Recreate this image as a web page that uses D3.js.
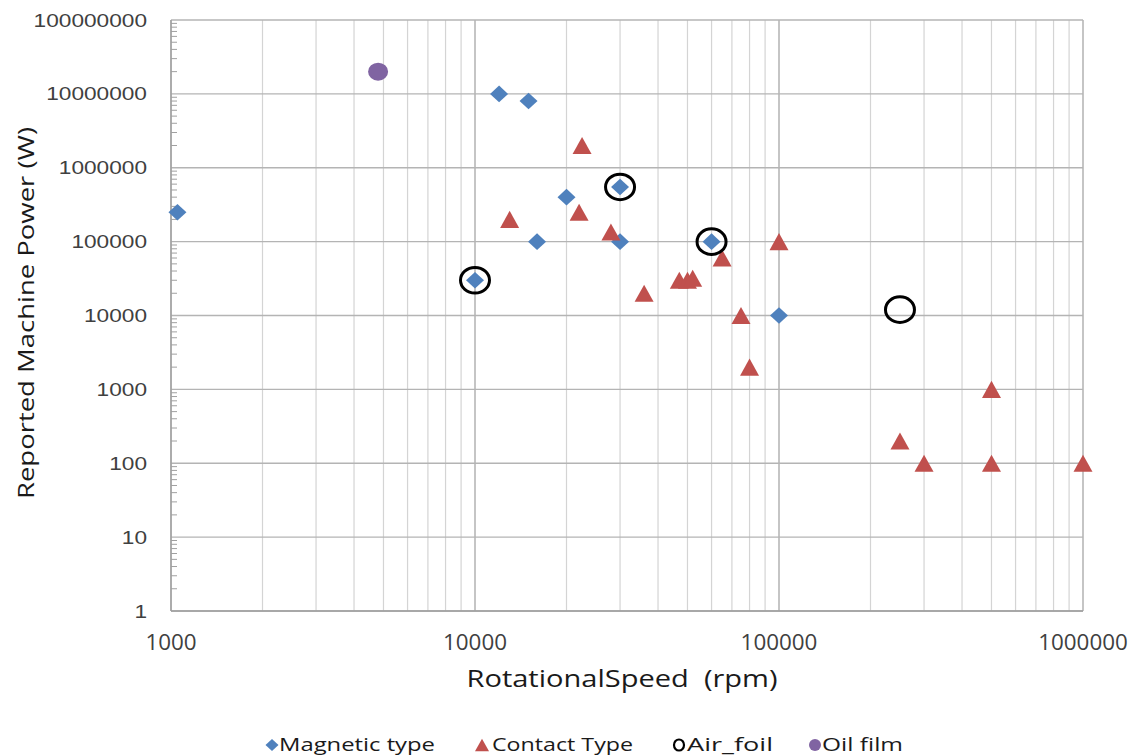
<!DOCTYPE html>
<html>
<head>
<meta charset="utf-8">
<script src="https://cdn.jsdelivr.net/npm/d3@7"></script>
<style>
  html, body { margin: 0; padding: 0; background: #fff; }
  svg { display: block; }
</style>
</head>
<body>
<svg id="chart" width="1137" height="755"></svg>
<script>
// Series: [rotational speed (rpm), reported machine power (W)]
const magneticType = [
  [1050, 250000], [12000, 10000000], [15000, 8000000], [20000, 400000],
  [16000, 100000], [30000, 550000], [30000, 100000], [10000, 30000],
  [60000, 100000], [100000, 10000]
];
const contactType = [
  [22500, 2000000], [13000, 200000], [22000, 250000], [28000, 135000],
  [36000, 20000], [47000, 30000], [50000, 30000], [52000, 32000],
  [65000, 60000], [100000, 100000], [75000, 10000], [80000, 2000],
  [500000, 1000], [250000, 200], [300000, 100], [500000, 100], [1000000, 100]
];
const airFoil = [
  [10000, 30000], [30000, 550000], [60000, 100000], [250000, 12000]
];
const oilFilm = [
  [4800, 20000000]
];
const seriesNames = ["Magnetic type", "Contact Type", "Air_foil", "Oil film"];
const xTickValues = [1000, 10000, 100000, 1000000];
const yTickValues = [1, 10, 100, 1000, 10000, 100000, 1000000, 10000000, 100000000];
const xTitle = "RotationalSpeed  (rpm)";
const yTitle = "Reported Machine Power (W)";

(function () {
const svg = d3.select("#chart");
const pL = 171, pR = 1083, pT = 20, pB = 611;

const x = d3.scaleLog().domain([1000, 1000000]).range([pL, pR]);
const y = d3.scaleLog().domain([1, 100000000]).range([pB, pT]);

// minor values 2..9 for each decade
function minors(domain) {
  const out = [];
  for (let p = Math.round(Math.log10(domain[0])); p < Math.round(Math.log10(domain[1])); p++) {
    for (let m = 2; m <= 9; m++) out.push(m * Math.pow(10, p));
  }
  return out;
}

const grid = svg.append("g");
// vertical minor gridlines
grid.append("g").selectAll("line").data(minors(x.domain())).join("line")
  .attr("x1", d => x(d)).attr("x2", d => x(d))
  .attr("y1", pT).attr("y2", pB)
  .attr("stroke", "#d4d4d4").attr("stroke-width", 1.2);
// vertical major gridlines
grid.append("g").selectAll("line").data(xTickValues).join("line")
  .attr("x1", d => x(d)).attr("x2", d => x(d))
  .attr("y1", pT).attr("y2", pB)
  .attr("stroke", "#a6a6a6").attr("stroke-width", 1.3);
// horizontal major gridlines
grid.append("g").selectAll("line").data(yTickValues).join("line")
  .attr("x1", pL).attr("x2", pR)
  .attr("y1", d => y(d)).attr("y2", d => y(d))
  .attr("stroke", "#b4b4b4").attr("stroke-width", 1.3);

// axis lines
svg.append("line").attr("x1", pL).attr("x2", pL).attr("y1", pT).attr("y2", pB)
  .attr("stroke", "#9e9e9e").attr("stroke-width", 1.3);
svg.append("line").attr("x1", pL).attr("x2", pR).attr("y1", pB).attr("y2", pB)
  .attr("stroke", "#9e9e9e").attr("stroke-width", 1.3);

// y minor ticks, drawn inside the plot
svg.append("g").selectAll("line").data(minors(y.domain())).join("line")
  .attr("x1", pL).attr("x2", pL + 6)
  .attr("y1", d => y(d)).attr("y2", d => y(d))
  .attr("stroke", "#a0a0a0").attr("stroke-width", 1);

// y tick labels
svg.append("g").selectAll("text").data(yTickValues).join("text")
  .attr("x", 147).attr("y", d => y(d) + 6.5)
  .attr("text-anchor", "end")
  .attr("font-family", "Liberation Sans, Arial, sans-serif")
  .attr("font-size", 17.8)
  .attr("fill", "#404040")
  .attr("textLength", d => String(d).length * 12.6)
  .attr("lengthAdjust", "spacingAndGlyphs")
  .text(d => String(d));

// x tick labels
svg.append("g").selectAll("text").data(xTickValues).join("text")
  .attr("x", d => x(d)).attr("y", 649.5)
  .attr("text-anchor", "middle")
  .attr("font-family", "Open Sans, sans-serif")
  .attr("font-size", 22.4)
  .attr("fill", "#404040")
  .attr("textLength", d => String(d).length * 12.8)
  .attr("lengthAdjust", "spacingAndGlyphs")
  .text(d => String(d));

// axis titles
svg.append("text")
  .attr("x", 622).attr("y", 687)
  .attr("text-anchor", "middle")
  .attr("font-family", "Open Sans, sans-serif")
  .attr("font-size", 23.4)
  .attr("fill", "#1a1a1a")
  .style("white-space", "pre")
  .attr("textLength", 311)
  .attr("lengthAdjust", "spacingAndGlyphs")
  .text(xTitle);

svg.append("text")
  .attr("transform", "translate(34,313) rotate(-90)")
  .attr("text-anchor", "middle")
  .attr("font-family", "Open Sans, sans-serif")
  .attr("font-size", 22.5)
  .attr("fill", "#1a1a1a")
  .attr("textLength", 372)
  .attr("lengthAdjust", "spacingAndGlyphs")
  .text(yTitle);

// marker shapes
const diamondType = {
  draw(ctx, size) {
    const w = Math.sqrt(size) / 2, h = w * 0.92;
    ctx.moveTo(0, -h); ctx.lineTo(w, 0); ctx.lineTo(0, h); ctx.lineTo(-w, 0); ctx.closePath();
  }
};
const triangleType = {
  draw(ctx, size) {
    const w = Math.sqrt(size) / 2, h = w * 0.9;
    ctx.moveTo(0, -h); ctx.lineTo(w, h); ctx.lineTo(-w, h); ctx.closePath();
  }
};

const plot = svg.append("g");
plot.append("g").selectAll("path").data(magneticType).join("path")
  .attr("d", d3.symbol(diamondType, 18 * 18))
  .attr("transform", d => `translate(${x(d[0])},${y(d[1])})`)
  .attr("fill", "#4f81bd");

plot.append("g").selectAll("path").data(contactType).join("path")
  .attr("d", d3.symbol(triangleType, 19 * 19))
  .attr("transform", d => `translate(${x(d[0])},${y(d[1])})`)
  .attr("fill", "#c0504d");

plot.append("g").selectAll("ellipse").data(airFoil).join("ellipse")
  .attr("cx", d => x(d[0])).attr("cy", d => y(d[1]))
  .attr("rx", 14.5).attr("ry", 12.8)
  .attr("fill", "none").attr("stroke", "#000").attr("stroke-width", 3);

plot.append("g").selectAll("ellipse").data(oilFilm).join("ellipse")
  .attr("cx", d => x(d[0])).attr("cy", d => y(d[1]))
  .attr("rx", 10).attr("ry", 9)
  .attr("fill", "#8064a2");

// legend
const legend = svg.append("g").attr("font-family", "Open Sans, sans-serif")
  .attr("font-size", 17.8).attr("fill", "#1a1a1a");
const legendItems = [
  { name: seriesNames[0], mx: 272, tx: 279, tw: 156 },
  { name: seriesNames[1], mx: 482, tx: 492, tw: 141 },
  { name: seriesNames[2], mx: 679, tx: 687, tw: 86 },
  { name: seriesNames[3], mx: 815, tx: 822, tw: 81 }
];
const ly = 745;
legend.append("path").attr("d", d3.symbol(diamondType, 13 * 13))
  .attr("transform", `translate(${legendItems[0].mx},${ly})`).attr("fill", "#4f81bd");
legend.append("path").attr("d", d3.symbol(triangleType, 14 * 14))
  .attr("transform", `translate(${legendItems[1].mx},${ly})`).attr("fill", "#c0504d");
legend.append("ellipse").attr("cx", legendItems[2].mx).attr("cy", ly)
  .attr("rx", 5).attr("ry", 5.5).attr("fill", "none").attr("stroke", "#000").attr("stroke-width", 2.2);
legend.append("ellipse").attr("cx", legendItems[3].mx).attr("cy", ly)
  .attr("rx", 6).attr("ry", 6).attr("fill", "#8064a2");
legend.selectAll("text").data(legendItems).join("text")
  .attr("x", d => d.tx).attr("y", 751)
  .attr("textLength", d => d.tw)
  .attr("lengthAdjust", "spacingAndGlyphs")
  .text(d => d.name);
})();
</script>
</body>
</html>
